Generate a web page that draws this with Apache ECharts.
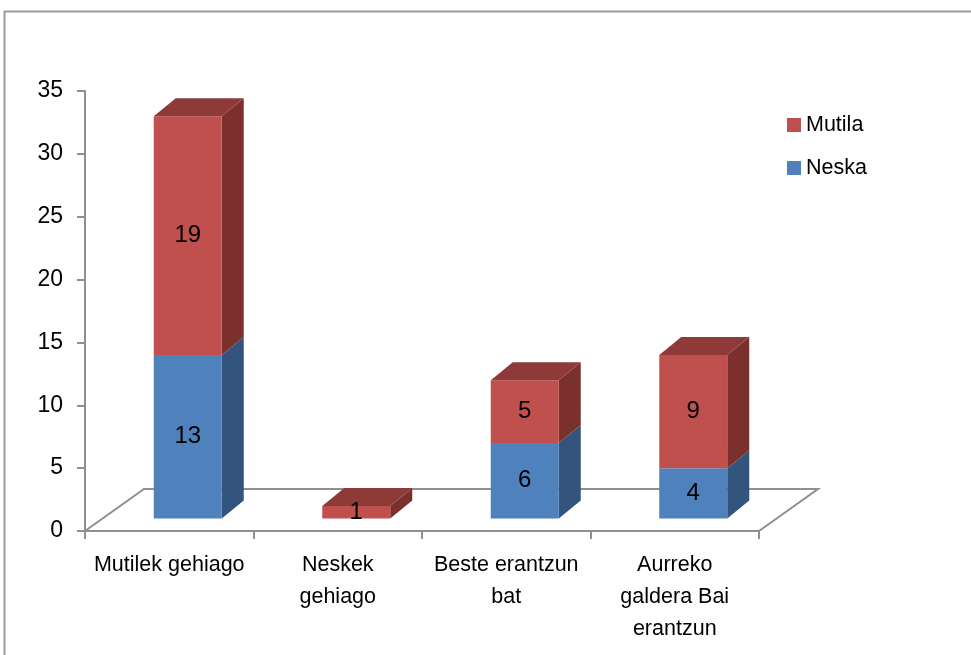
<!DOCTYPE html>
<html><head><meta charset="utf-8">
<script src="https://cdn.jsdelivr.net/npm/echarts@6/dist/echarts.min.js"></script>
<style>html,body{margin:0;padding:0;background:#fff}#c{width:971px;height:655px}</style>
</head><body><div id="c"></div>
<script>
// ---- data ----
const categories = ['Mutilek gehiago', 'Neskek\ngehiago', 'Beste erantzun\nbat', 'Aurreko\ngaldera Bai\nerantzun'];
const neska = [13, 0, 6, 4];
const mutila = [19, 1, 5, 9];
const seriesNames = ['Mutila', 'Neska'];
const yMin = 0, yMax = 35, yStep = 5;

// ---- style ----
const FONT = '"Liberation Sans", Arial, sans-serif';
const GRAY = '#8f8f8f';
const BAR_W = 68;
const SHIFT = {dx: 18.5, dy: -12.5};   // bars sit a bit behind the front plane
const DEPTH = {dx: 22, dy: -18};       // bar depth
const FLOOR = {dx: 59, dy: -42};       // floor depth
const RED = {front: '#C0504D', side: '#7B302E', top: '#8E3A38'};
const BLUE = {front: '#4F81BD', side: '#33547C', top: '#3E6695'};

function barRenderer(col) {
  return function (params, api) {
    const idx = api.value(0), base = api.value(1), top = api.value(2), isTop = api.value(3);
    if (top - base <= 0) return null;
    const p0 = api.coord([idx, base]);
    const p1 = api.coord([idx, top]);
    const cx = p0[0] + SHIFT.dx;
    const x0 = cx - BAR_W / 2, x1 = cx + BAR_W / 2;
    const yb = p0[1] + SHIFT.dy, yt = p1[1] + SHIFT.dy;
    const children = [
      {type: 'polygon', shape: {points: [[x1, yb], [x1 + DEPTH.dx, yb + DEPTH.dy], [x1 + DEPTH.dx, yt + DEPTH.dy], [x1, yt]]},
        style: {fill: col.side}},
      {type: 'rect', shape: {x: x0, y: yt, width: BAR_W, height: yb - yt}, style: {fill: col.front}}
    ];
    if (isTop) {
      children.push({type: 'polygon', shape: {points: [[x0, yt], [x0 + DEPTH.dx, yt + DEPTH.dy], [x1 + DEPTH.dx, yt + DEPTH.dy], [x1, yt]]},
        style: {fill: col.top}});
    }
    children.push({type: 'text', x: cx, y: (yb + yt) / 2,
      style: {text: String(top - base), fill: '#000', font: '24px ' + FONT, align: 'center', verticalAlign: 'middle'}});
    return {type: 'group', children: children};
  };
}

const neskaData = categories.map((c, i) => [i, 0, neska[i], mutila[i] === 0 ? 1 : 0]);
const mutilaData = categories.map((c, i) => [i, neska[i], neska[i] + mutila[i], 1]);

const chart = echarts.init(document.getElementById('c'));
chart.setOption({
  animation: false,
  backgroundColor: '#fff',
  graphic: [{type: 'rect', shape: {x: 4.5, y: 11.5, width: 1000, height: 700},
    style: {fill: 'none', stroke: '#9a9a9a', lineWidth: 2}, silent: true}],
  grid: {left: 85, right: 212, top: 91, bottom: 124},
  legend: {
    data: seriesNames, orient: 'vertical', left: 782, top: 109,
    itemWidth: 14, itemHeight: 14, itemGap: 21, icon: 'rect',
    textStyle: {fontFamily: FONT, fontSize: 21.5, color: '#000', lineHeight: 22}
  },
  xAxis: {
    type: 'category', data: categories, boundaryGap: true,
    axisLine: {lineStyle: {color: GRAY, width: 2}},
    axisTick: {show: true, length: 8, lineStyle: {color: GRAY, width: 2}},
    axisLabel: {interval: 0, color: '#000', fontFamily: FONT, fontSize: 21.5, lineHeight: 32, margin: 18}
  },
  yAxis: {
    type: 'value', min: yMin, max: yMax, interval: yStep,
    axisLine: {show: true, lineStyle: {color: GRAY, width: 2}},
    axisTick: {show: true, length: 8, lineStyle: {color: GRAY, width: 2}},
    splitLine: {show: false},
    axisLabel: {color: '#000', fontFamily: FONT, fontSize: 23, margin: 22}
  },
  series: [
    {
      name: 'floor', type: 'custom', silent: true, z: 1, data: [[0, 0]],
      encode: {x: 0, y: 1},
      renderItem: function (params, api) {
        const a = api.coord([0, 0]);
        const b = api.coord([categories.length - 1, 0]);
        const bw = api.size([1, 0])[0];
        const left = a[0] - bw / 2, right = b[0] + bw / 2, y = a[1];
        return {type: 'polyline', shape: {points: [[left, y], [left + FLOOR.dx, y + FLOOR.dy], [right + FLOOR.dx, y + FLOOR.dy], [right, y]]},
          style: {stroke: GRAY, lineWidth: 2, fill: null}};
      }
    },
    {name: 'Neska', type: 'custom', z: 3, data: neskaData, encode: {x: 0, y: [1, 2]},
      itemStyle: {color: BLUE.front}, renderItem: barRenderer(BLUE)},
    {name: 'Mutila', type: 'custom', z: 4, data: mutilaData, encode: {x: 0, y: [1, 2]},
      itemStyle: {color: RED.front}, renderItem: barRenderer(RED)}
  ]
});
</script>
</body></html>
